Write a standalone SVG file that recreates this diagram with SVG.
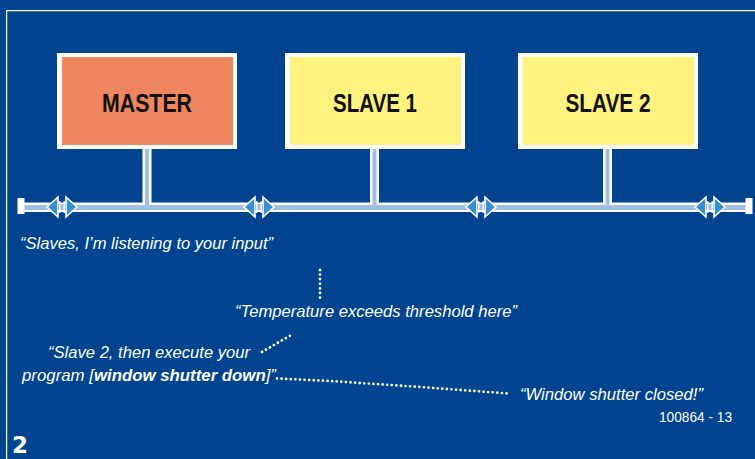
<svg xmlns="http://www.w3.org/2000/svg" xmlns:xlink="http://www.w3.org/1999/xlink" width="755" height="459" viewBox="0 0 755 459">
  <style>
    .frame { fill: none; stroke: #ffffff; stroke-width: 1.2; }
    .boxedge { fill: #ffffff; }
    .master { fill: #ef8660; }
    .slave { fill: #fff27f; }
    .label { font-family: "Liberation Sans", Arial, sans-serif; font-weight: bold; font-size: 25px; fill: #111111; text-anchor: middle; }
    .quote { font-family: "Liberation Sans", Arial, sans-serif; font-style: italic; font-size: 16.5px; fill: #ffffff; }
    .ref { font-family: "Liberation Sans", Arial, sans-serif; font-size: 15px; fill: #ffffff; }
    .num { font-family: "DejaVu Sans", sans-serif; font-weight: bold; font-size: 23px; fill: #ffffff; }
    .wire { fill: #ffffff; }
    .core { fill: #9fc0e4; }
    .dots { fill: none; stroke: #ffffff; stroke-width: 2.8; stroke-linecap: round; stroke-dasharray: 0 4.6; }
  </style>
  <defs>
    <!-- bidirectional bus arrow, centred on the origin -->
    <g id="dblarrow">
      <polygon points="-15,0 -4,-10 -4,10" fill="#3a8fd2" stroke="#ffffff" stroke-width="1.6" stroke-linejoin="miter"/>
      <polygon points="15,0 4,-10 4,10" fill="#3a8fd2" stroke="#ffffff" stroke-width="1.6" stroke-linejoin="miter"/>
      <rect x="-4" y="-3" width="8" height="6" fill="#9fc0e4"/>
      <line x1="-2.2" y1="-6" x2="-2.2" y2="6" stroke="#ffffff" stroke-width="1.3"/>
      <line x1="2.2" y1="-6" x2="2.2" y2="6" stroke="#ffffff" stroke-width="1.3"/>
    </g>
  </defs>

  <!-- background and frame -->
  <rect x="0" y="0" width="755" height="459" fill="#00448f"/>
  <path class="frame" d="M 6.6 459 L 6.6 10.6 L 755 10.6"/>

  <!-- bus and stubs -->
  <g id="connectors">
    <rect class="wire" x="20" y="202.5" width="730" height="9.5"/>
    <rect class="wire" x="142.5" y="148" width="9" height="58"/>
    <rect class="wire" x="370" y="148" width="9" height="58"/>
    <rect class="wire" x="603" y="148" width="9" height="58"/>
    <rect class="core" x="145" y="148" width="4" height="60"/>
    <rect class="core" x="372.5" y="148" width="4" height="60"/>
    <rect class="core" x="605.5" y="148" width="4" height="60"/>
    <rect class="core" x="20" y="205" width="730" height="5"/>
    <rect fill="#ffffff" x="17.5" y="198" width="7" height="16"/>
    <rect fill="#ffffff" x="745.5" y="198" width="7" height="16"/>
    <use xlink:href="#dblarrow" transform="translate(62,207)"/>
    <use xlink:href="#dblarrow" transform="translate(259,207)"/>
    <use xlink:href="#dblarrow" transform="translate(481,207)"/>
    <use xlink:href="#dblarrow" transform="translate(710,207)"/>

    <!-- dotted call-out lines -->
    <line class="dots" x1="320" y1="270" x2="320" y2="298"/>
    <line class="dots" x1="262" y1="352" x2="293" y2="334"/>
    <path class="dots" d="M 277 378.5 L 330 381 L 420 387 L 508 393.5"/>
  </g>

  <!-- nodes -->
  <g id="master">
    <rect class="boxedge" x="57" y="53" width="180" height="96"/>
    <rect class="master" x="62" y="57" width="171" height="88"/>
    <text class="label" x="147" y="112" textLength="90" lengthAdjust="spacingAndGlyphs">MASTER</text>
  </g>
  <g id="slave1">
    <rect class="boxedge" x="285" y="53" width="180" height="96"/>
    <rect class="slave" x="290" y="57" width="171" height="88"/>
    <text class="label" x="375" y="112" textLength="84" lengthAdjust="spacingAndGlyphs">SLAVE 1</text>
  </g>
  <g id="slave2">
    <rect class="boxedge" x="518" y="53" width="180" height="96"/>
    <rect class="slave" x="523" y="57" width="171" height="88"/>
    <text class="label" x="608" y="112" textLength="85" lengthAdjust="spacingAndGlyphs">SLAVE 2</text>
  </g>

  <!-- messages -->
  <g id="messages">
    <text class="quote" x="20" y="249" textLength="253" lengthAdjust="spacingAndGlyphs">“Slaves, I’m listening to your input”</text>
    <text class="quote" x="235" y="317" textLength="282" lengthAdjust="spacingAndGlyphs">“Temperature exceeds threshold here”</text>
    <text class="quote" x="48" y="358" textLength="202" lengthAdjust="spacingAndGlyphs">“Slave 2, then execute your</text>
    <text class="quote" x="22" y="381" textLength="254" lengthAdjust="spacingAndGlyphs">program [<tspan font-weight="bold">window shutter down</tspan>]”</text>
    <text class="quote" x="520" y="400" textLength="183" lengthAdjust="spacingAndGlyphs">“Window shutter closed!”</text>
    <text class="ref" x="659" y="422" textLength="73" lengthAdjust="spacingAndGlyphs">100864 - 13</text>
    <text class="num" x="12" y="453">2</text>
  </g>
</svg>
